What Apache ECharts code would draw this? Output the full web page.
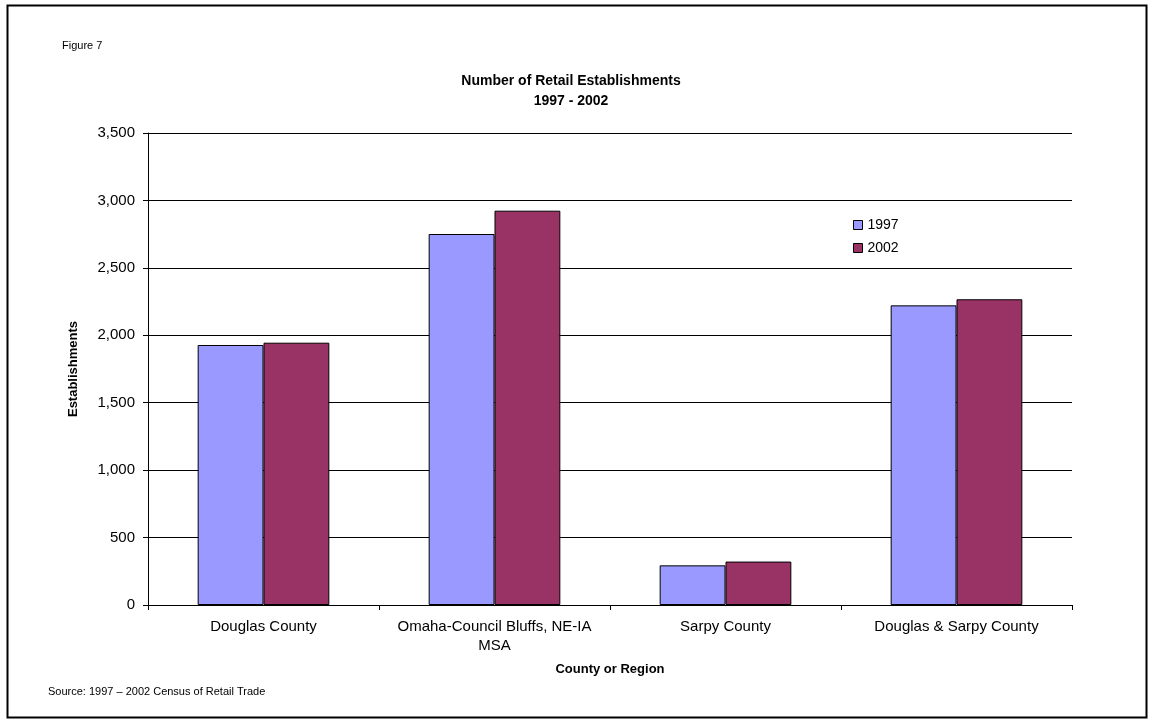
<!DOCTYPE html>
<html><head><meta charset="utf-8">
<script src="https://cdn.jsdelivr.net/npm/echarts@6/dist/echarts.min.js"></script>
<style>html,body{margin:0;padding:0;background:#fff}#c{width:1153px;height:721px}</style>
</head><body><div id="c"></div>
<script>
const categories = ["Douglas County", "Omaha-Council Bluffs, NE-IA\nMSA", "Sarpy County", "Douglas & Sarpy County"];
const values1997 = [1928, 2751, 294, 2222];
const values2002 = [1945, 2924, 322, 2267];
const yTicks = [0, 500, 1000, 1500, 2000, 2500, 3000, 3500];

const F = 'Liberation Sans, Arial, sans-serif';
const chart = echarts.init(document.getElementById('c'));
chart.setOption({
  animation: false,
  backgroundColor: '#fff',
  textStyle: { fontFamily: F },
  title: [
    { text: 'Number of Retail Establishments\n1997 - 2002', left: 566, textAlign: 'center', top: 66,
      textStyle: { fontFamily: F, fontSize: 14, fontWeight: 'bold', color: '#000', lineHeight: 20 } },
    { text: 'Figure 7', left: 57, top: 35, textStyle: { fontFamily: F, fontSize: 11, fontWeight: 'normal', color: '#000' } },
    { text: 'Source: 1997 \u2013 2002 Census of Retail Trade', left: 43, top: 681,
      textStyle: { fontFamily: F, fontSize: 11, fontWeight: 'normal', color: '#000' } }
  ],
  legend: {
    orient: 'vertical', left: 848, top: 213, itemWidth: 9, itemHeight: 9, itemGap: 9,
    textStyle: { fontFamily: F, fontSize: 14, color: '#000' },
    data: [
      { name: '1997', icon: 'rect', itemStyle: { borderColor: '#000', borderWidth: 1 } },
      { name: '2002', icon: 'rect', itemStyle: { borderColor: '#000', borderWidth: 1 } }
    ]
  },
  grid: { left: 148, right: 81, top: 133, bottom: 116, containLabel: false },
  xAxis: {
    type: 'category', data: categories,
    name: 'County or Region', nameLocation: 'middle', nameGap: 58,
    nameTextStyle: { fontFamily: F, fontSize: 13, fontWeight: 'bold', color: '#000' },
    axisLine: { lineStyle: { color: '#000', width: 1 } },
    axisTick: { show: true, length: 5, lineStyle: { color: '#000' } },
    axisLabel: { fontFamily: F, fontSize: 15, color: '#000', margin: 12, lineHeight: 19, interval: 0 }
  },
  yAxis: {
    type: 'value', min: 0, max: 3500, interval: 500,
    name: 'Establishments', nameLocation: 'middle', nameGap: 68, nameRotate: 90,
    nameTextStyle: { fontFamily: F, fontSize: 13, fontWeight: 'bold', color: '#000' },
    axisLine: { show: true, lineStyle: { color: '#000', width: 1 } },
    axisTick: { show: true, length: 5, lineStyle: { color: '#000' } },
    splitLine: { show: true, lineStyle: { color: '#000', width: 1 } },
    axisLabel: { fontFamily: F, fontSize: 15, color: '#000', margin: 13,
      formatter: v => yTicks.includes(v) ? v.toLocaleString('en-US') : '' }
  },
  series: [
    { name: '1997', type: 'bar', data: values1997, barGap: '0%', barCategoryGap: '43%',
      itemStyle: { color: '#9999FF', borderColor: '#000', borderWidth: 1 } },
    { name: '2002', type: 'bar', data: values2002,
      itemStyle: { color: '#993366', borderColor: '#000', borderWidth: 1 } }
  ],
  graphic: [
    { type: 'rect', shape: { x: 7.5, y: 5.5, width: 1139, height: 712 }, silent: true,
      style: { fill: 'none', stroke: '#000', lineWidth: 2 } }
  ]
});
</script></body></html>
